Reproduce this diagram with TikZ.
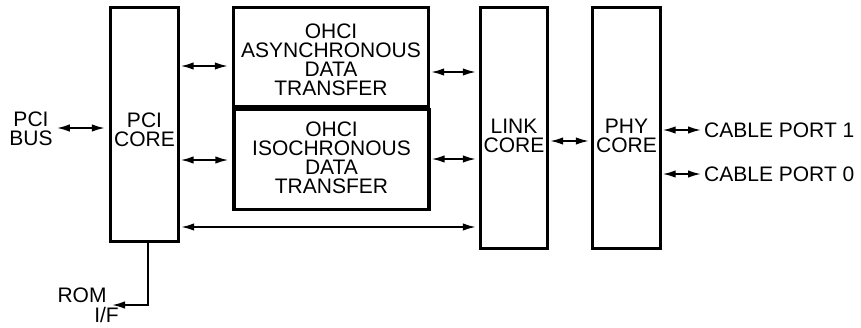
\documentclass[tikz,border=0pt]{standalone}
\usepackage{fontspec}
\setmainfont{Liberation Sans}
\usetikzlibrary{arrows.meta}

\begin{document}
\begin{tikzpicture}[
		x=1pt, y=-1pt,
		core/.style={draw, line width=3.4pt, inner sep=0pt},
		txt/.style={align=center, font=\fontsize{21}{19}\selectfont, inner sep=0pt},
		bus/.style={line width=1.8pt, <->},
		>={Latex[length=13pt,width=7.5pt]}]
	\useasboundingbox (0,0) rectangle (861,327);
	%% blocks
	\node[core, minimum width=68pt, minimum height=234pt,
		label={[txt,yshift=-5pt]center:PCI\\CORE}] (pcicore) at (144.5,124.5) {};
	\node[core, minimum width=195pt, minimum height=99pt,
		label={[txt,yshift=-3pt]center:OHCI\\ASYNCHRONOUS\\DATA\\TRANSFER}] (async) at (331,57) {};
	\node[core, minimum width=195pt, minimum height=100pt,
		label={[txt,yshift=2pt]center:OHCI\\ISOCHRONOUS\\DATA\\TRANSFER}] (iso) at (331.5,159.5) {};
	\node[core, minimum width=67pt, minimum height=241pt,
		label={[txt,yshift=-8pt]center:LINK\\CORE}] (linkcore) at (514,128) {};
	\node[core, minimum width=68pt, minimum height=241pt,
		label={[txt,yshift=-8pt]center:PHY\\CORE}] (phycore) at (626.5,128) {};
	%% outside labels
	\node[txt] (pcibus) at (31,129) {PCI\\BUS};
	\node[txt] (rom) at (82,295) {ROM};
	\node[txt] (romif) at (106.5,314.5) {I/F};
	\node[txt, anchor=west] (port1) at (704,130) {CABLE PORT 1};
	\node[txt, anchor=west] (port0) at (704,174) {CABLE PORT 0};
	\coordinate (romend) at (112,305);
	%% connections
	\draw[bus, shorten >=4pt] (pcibus.east |- 0,128) ++(4,0) -- (pcicore.west |- 0,128);
	\draw[bus, shorten <=0.5pt, shorten >=4pt] (pcicore.east |- 0,66) -- (async.west |- 0,66);
	\draw[bus, shorten <=0.5pt, shorten >=4pt] (pcicore.east |- 0,160) -- (iso.west |- 0,160);
	\draw[bus, shorten <=1pt, shorten >=3pt] (pcicore.east |- 0,227) -- (linkcore.west |- 0,227);
	\draw[bus, shorten <=1pt, shorten >=3pt] (async.east |- 0,72) -- (linkcore.west |- 0,72);
	\draw[bus, shorten <=1pt, shorten >=3pt] (iso.east |- 0,159) -- (linkcore.west |- 0,159);
	\draw[bus, shorten <=1pt, shorten >=2pt] (linkcore.east |- 0,141) -- (phycore.west |- 0,141);
	\draw[bus, shorten <=0.5pt, shorten >=3pt] (phycore.east |- port1.west) -- (port1.west);
	\draw[bus, shorten <=0.5pt, shorten >=3pt] (phycore.east |- port0.west) -- (port0.west);
	\draw[line width=1.8pt, ->] (pcicore.south -| 148,0) |- (romend);
\end{tikzpicture}
\end{document}
